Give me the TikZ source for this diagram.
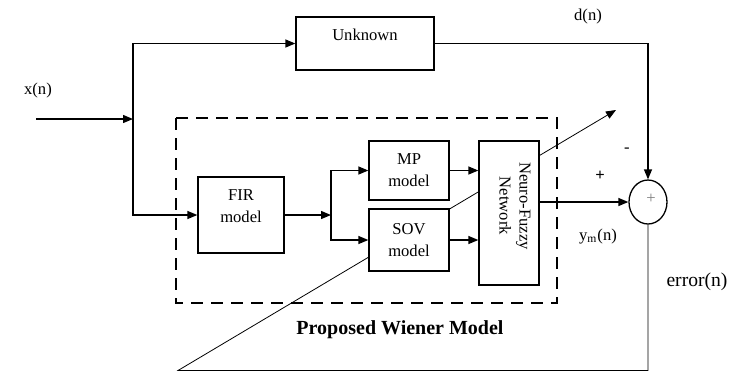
\documentclass[tikz,border=0pt]{standalone}
\usepackage{fontspec}
\setmainfont{Liberation Serif}
\usepackage{tikz}
\usetikzlibrary{arrows.meta}
\usetikzlibrary{shapes.geometric}
\usetikzlibrary{backgrounds}
\tikzset{>={Triangle[length=5pt,width=4pt]}}
\tikzstyle{blk} = [rectangle, draw, fill=white, line width=0.65pt, inner sep=0pt, align=center, font=\fontsize{8.3}{11}\selectfont]
\tikzstyle{lbl} = [draw=none, inner sep=0pt, font=\fontsize{8.3}{10}\selectfont]
\tikzstyle{wien} = [dash pattern=on 6pt off 4pt, line width=1.15pt]

\begin{document}
\begin{tikzpicture}[x=0.5pt, y=-0.5pt, line width=0.65pt]
\useasboundingbox (0,0) rectangle (730,372);
\node [blk, minimum width=69pt, minimum height=26.5pt] (U) at (365, 43.5) {};
\node [lbl] (Ut) at (365, 35) {Unknown};
\node [blk, minimum width=43pt, minimum height=38pt] (F) at (241, 215) {};
\node [lbl, align=center, font=\fontsize{8.3}{11}\selectfont] (Ft) at (241, 206) {FIR\\model};
\node [blk, minimum width=40pt, minimum height=29.5pt] (M) at (409, 170.5) {MP\\model};
\node [blk, minimum width=40pt, minimum height=31pt] (V) at (409, 240) {SOV\\model};
\node [blk, minimum width=30pt, minimum height=72pt] (N) at (509, 213) {};
\node [lbl, align=center, rotate=-90] (Nt) at (515, 206) {Neuro-Fuzzy\\Network};
\node [ellipse, draw, fill=white, minimum width=19pt, minimum height=22pt, inner sep=0pt] (E) at (648, 202) {};
\node [lbl, text=gray] (Ep) at (651, 199) {+};
\coordinate (X0) at (36, 119);
\coordinate (J) at (133, 119);
\coordinate (B) at (331, 215);
\coordinate (C) at (178, 370.5);
\coordinate (T) at (616, 110);
\draw [->] (X0) -- (J);
\draw [->] (J) |- (U.west);
\draw [->] (J) |- (F.west);
\draw [->] (F.east) -- (B);
\draw [->] (B) |- (M.west);
\draw [->] (B) |- (V.west);
\draw [->] (M.east) -- (M.east -| N.west);
\draw [->] (V.east) -- (V.east -| N.west);
\draw [->] (N.east |- E.west) -- (E.west);
\draw [->] (U.east) -| (E.north);
\begin{scope}[on background layer]
\draw [->] (E.south) |- (C) -- (T);
\end{scope}
\draw [wien] (176, 118) rectangle (557, 303);
\node [lbl] (x) at (38, 90) {x(n)};
\node [lbl] (d) at (588, 16) {d(n)};
\node [lbl] (minus) at (627, 150) {-};
\node [lbl, font=\fontsize{8.3}{10}\selectfont\bfseries] (plus) at (600, 176) {+};
\node [lbl] (ym) at (598, 237) {y\textsubscript{m}(n)};
\node [lbl, font=\fontsize{9.8}{11}\selectfont] (err) at (697, 282) {error(n)};
\node [lbl, font=\fontsize{10}{12}\selectfont\bfseries] (P) at (400, 330) {Proposed Wiener Model};
\end{tikzpicture}
\end{document}
